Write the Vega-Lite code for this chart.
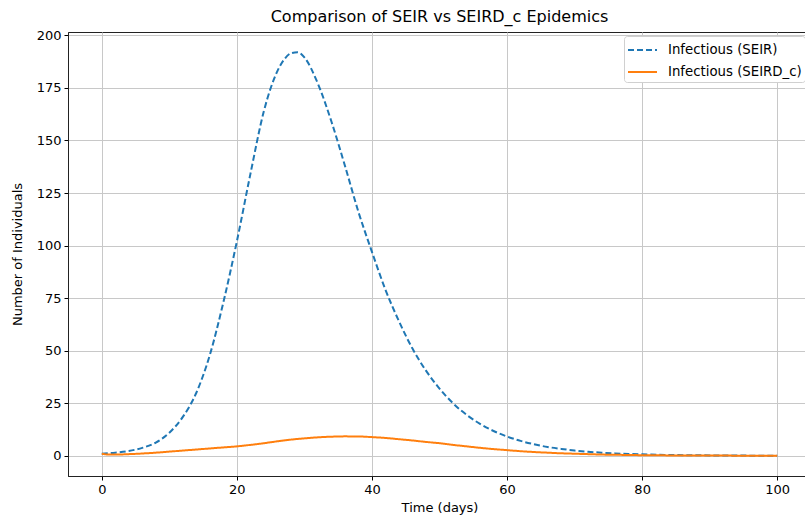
{
  "$schema": "https://vega.github.io/schema/vega-lite/v6.json",
  "autosize": {"type": "none"},
  "width": 743,
  "height": 444,
  "padding": {"left": 68, "top": 32, "right": 0, "bottom": 44},
  "background": "white",
  "title": {"text": "Comparison of SEIR vs SEIRD_c Epidemics", "font": "DejaVu Sans", "fontSize": 16, "fontWeight": "normal", "color": "#000", "offset": 4},
  "config": {
    "view": {"stroke": "#222", "strokeWidth": 1},
    "axis": {"labelFont": "DejaVu Sans", "titleFont": "DejaVu Sans", "labelFontSize": 13, "titleFontSize": 13, "titleFontWeight": "normal", "labelColor": "#000", "titleColor": "#000", "gridColor": "#c8c8c8", "gridWidth": 1, "tickColor": "#000", "tickSize": 4, "domainColor": "#222"}
  },
  "data": {"values": [
    {"t": 0, "v": 1, "s": "Infectious (SEIR)"},
    {"t": 2, "v": 1.5, "s": "Infectious (SEIR)"},
    {"t": 4, "v": 2.3, "s": "Infectious (SEIR)"},
    {"t": 6, "v": 3.8, "s": "Infectious (SEIR)"},
    {"t": 8, "v": 6.3, "s": "Infectious (SEIR)"},
    {"t": 10, "v": 11, "s": "Infectious (SEIR)"},
    {"t": 12, "v": 18.5, "s": "Infectious (SEIR)"},
    {"t": 14, "v": 30, "s": "Infectious (SEIR)"},
    {"t": 16, "v": 48, "s": "Infectious (SEIR)"},
    {"t": 18, "v": 73, "s": "Infectious (SEIR)"},
    {"t": 20, "v": 102, "s": "Infectious (SEIR)"},
    {"t": 22, "v": 134, "s": "Infectious (SEIR)"},
    {"t": 24, "v": 164, "s": "Infectious (SEIR)"},
    {"t": 26, "v": 183, "s": "Infectious (SEIR)"},
    {"t": 27, "v": 188.5, "s": "Infectious (SEIR)"},
    {"t": 28, "v": 191.5, "s": "Infectious (SEIR)"},
    {"t": 29, "v": 192, "s": "Infectious (SEIR)"},
    {"t": 30, "v": 189.5, "s": "Infectious (SEIR)"},
    {"t": 32, "v": 177, "s": "Infectious (SEIR)"},
    {"t": 34, "v": 159, "s": "Infectious (SEIR)"},
    {"t": 36, "v": 138, "s": "Infectious (SEIR)"},
    {"t": 38, "v": 116, "s": "Infectious (SEIR)"},
    {"t": 40, "v": 97, "s": "Infectious (SEIR)"},
    {"t": 42, "v": 79, "s": "Infectious (SEIR)"},
    {"t": 44, "v": 64, "s": "Infectious (SEIR)"},
    {"t": 46, "v": 51, "s": "Infectious (SEIR)"},
    {"t": 48, "v": 40.5, "s": "Infectious (SEIR)"},
    {"t": 50, "v": 32, "s": "Infectious (SEIR)"},
    {"t": 52, "v": 25, "s": "Infectious (SEIR)"},
    {"t": 54, "v": 19.5, "s": "Infectious (SEIR)"},
    {"t": 56, "v": 15.2, "s": "Infectious (SEIR)"},
    {"t": 58, "v": 11.8, "s": "Infectious (SEIR)"},
    {"t": 60, "v": 9.2, "s": "Infectious (SEIR)"},
    {"t": 62, "v": 7.1, "s": "Infectious (SEIR)"},
    {"t": 64, "v": 5.5, "s": "Infectious (SEIR)"},
    {"t": 66, "v": 4.2, "s": "Infectious (SEIR)"},
    {"t": 68, "v": 3.3, "s": "Infectious (SEIR)"},
    {"t": 70, "v": 2.5, "s": "Infectious (SEIR)"},
    {"t": 72, "v": 1.9, "s": "Infectious (SEIR)"},
    {"t": 74, "v": 1.5, "s": "Infectious (SEIR)"},
    {"t": 76, "v": 1.15, "s": "Infectious (SEIR)"},
    {"t": 78, "v": 0.9, "s": "Infectious (SEIR)"},
    {"t": 80, "v": 0.7, "s": "Infectious (SEIR)"},
    {"t": 84, "v": 0.4, "s": "Infectious (SEIR)"},
    {"t": 88, "v": 0.25, "s": "Infectious (SEIR)"},
    {"t": 92, "v": 0.15, "s": "Infectious (SEIR)"},
    {"t": 96, "v": 0.09, "s": "Infectious (SEIR)"},
    {"t": 100, "v": 0.05, "s": "Infectious (SEIR)"},
    {"t": 0, "v": 1, "s": "Infectious (SEIRD_c)"},
    {"t": 1, "v": 0.6, "s": "Infectious (SEIRD_c)"},
    {"t": 2, "v": 0.6, "s": "Infectious (SEIRD_c)"},
    {"t": 4, "v": 0.8, "s": "Infectious (SEIRD_c)"},
    {"t": 6, "v": 1.1, "s": "Infectious (SEIRD_c)"},
    {"t": 8, "v": 1.5, "s": "Infectious (SEIRD_c)"},
    {"t": 10, "v": 2, "s": "Infectious (SEIRD_c)"},
    {"t": 12, "v": 2.5, "s": "Infectious (SEIRD_c)"},
    {"t": 14, "v": 3.0, "s": "Infectious (SEIRD_c)"},
    {"t": 16, "v": 3.5, "s": "Infectious (SEIRD_c)"},
    {"t": 18, "v": 4.0, "s": "Infectious (SEIRD_c)"},
    {"t": 20, "v": 4.5, "s": "Infectious (SEIRD_c)"},
    {"t": 22, "v": 5.2, "s": "Infectious (SEIRD_c)"},
    {"t": 24, "v": 6.0, "s": "Infectious (SEIRD_c)"},
    {"t": 26, "v": 6.9, "s": "Infectious (SEIRD_c)"},
    {"t": 28, "v": 7.7, "s": "Infectious (SEIRD_c)"},
    {"t": 30, "v": 8.3, "s": "Infectious (SEIRD_c)"},
    {"t": 32, "v": 8.8, "s": "Infectious (SEIRD_c)"},
    {"t": 34, "v": 9.1, "s": "Infectious (SEIRD_c)"},
    {"t": 36, "v": 9.25, "s": "Infectious (SEIRD_c)"},
    {"t": 38, "v": 9.2, "s": "Infectious (SEIRD_c)"},
    {"t": 40, "v": 8.9, "s": "Infectious (SEIRD_c)"},
    {"t": 42, "v": 8.5, "s": "Infectious (SEIRD_c)"},
    {"t": 44, "v": 7.9, "s": "Infectious (SEIRD_c)"},
    {"t": 46, "v": 7.3, "s": "Infectious (SEIRD_c)"},
    {"t": 48, "v": 6.6, "s": "Infectious (SEIRD_c)"},
    {"t": 50, "v": 6.0, "s": "Infectious (SEIRD_c)"},
    {"t": 52, "v": 5.2, "s": "Infectious (SEIRD_c)"},
    {"t": 54, "v": 4.5, "s": "Infectious (SEIRD_c)"},
    {"t": 56, "v": 3.8, "s": "Infectious (SEIRD_c)"},
    {"t": 58, "v": 3.2, "s": "Infectious (SEIRD_c)"},
    {"t": 60, "v": 2.7, "s": "Infectious (SEIRD_c)"},
    {"t": 62, "v": 2.2, "s": "Infectious (SEIRD_c)"},
    {"t": 64, "v": 1.8, "s": "Infectious (SEIRD_c)"},
    {"t": 66, "v": 1.5, "s": "Infectious (SEIRD_c)"},
    {"t": 68, "v": 1.2, "s": "Infectious (SEIRD_c)"},
    {"t": 70, "v": 1.0, "s": "Infectious (SEIRD_c)"},
    {"t": 72, "v": 0.8, "s": "Infectious (SEIRD_c)"},
    {"t": 74, "v": 0.6, "s": "Infectious (SEIRD_c)"},
    {"t": 76, "v": 0.5, "s": "Infectious (SEIRD_c)"},
    {"t": 78, "v": 0.4, "s": "Infectious (SEIRD_c)"},
    {"t": 80, "v": 0.3, "s": "Infectious (SEIRD_c)"},
    {"t": 84, "v": 0.2, "s": "Infectious (SEIRD_c)"},
    {"t": 88, "v": 0.15, "s": "Infectious (SEIRD_c)"},
    {"t": 92, "v": 0.1, "s": "Infectious (SEIRD_c)"},
    {"t": 96, "v": 0.08, "s": "Infectious (SEIRD_c)"},
    {"t": 100, "v": 0.05, "s": "Infectious (SEIRD_c)"}
  ]},
  "mark": {"type": "line", "strokeWidth": 2, "interpolate": "monotone", "clip": true},
  "encoding": {
    "x": {"field": "t", "type": "quantitative", "title": "Time (days)",
      "scale": {"domain": [-5, 105], "nice": false, "zero": false},
      "axis": {"values": [0, 20, 40, 60, 80, 100], "labelPadding": 3, "titlePadding": 5}},
    "y": {"field": "v", "type": "quantitative", "title": "Number of Individuals",
      "scale": {"domain": [-9.6, 201.6], "nice": false, "zero": false},
      "axis": {"values": [0, 25, 50, 75, 100, 125, 150, 175, 200], "labelPadding": 3, "titlePadding": 12}},
    "color": {"field": "s", "type": "nominal", "title": null,
      "scale": {"domain": ["Infectious (SEIR)", "Infectious (SEIRD_c)"], "range": ["#1f77b4", "#ff7f0e"]},
      "legend": {"orient": "none", "legendX": 556, "legendY": 4, "fillColor": "white", "strokeColor": "#d0d0d0", "cornerRadius": 3, "padding": 3, "labelFont": "DejaVu Sans", "labelFontSize": 13.3, "labelColor": "#000", "labelOffset": 19, "symbolType": "M-1,0H1.9", "symbolFillColor": "transparent", "symbolSize": 400, "symbolStrokeWidth": 2, "rowPadding": 4}},
    "strokeDash": {"field": "s", "type": "nominal", "title": null,
      "scale": {"domain": ["Infectious (SEIR)", "Infectious (SEIRD_c)"], "range": [[6, 3], [1, 0]]}}
  }
}
